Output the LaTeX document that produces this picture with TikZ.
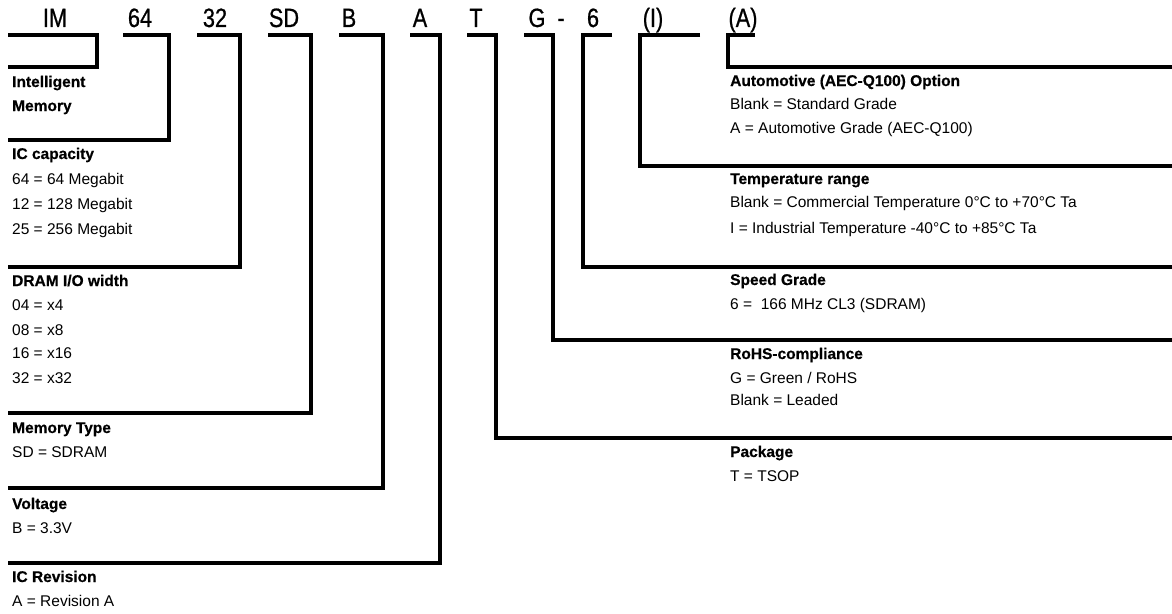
\documentclass[tikz,border=0pt]{standalone}
\usepackage{fontspec}
\setmainfont[BoldFeatures={FakeBold=0.6}]{Liberation Sans}
\newfontfamily\hdrfont[FakeStretch=0.82, FakeBold=0.7]{Liberation Sans}
\begin{document}
\begin{tikzpicture}[x=1pt, y=-1pt,
    bracket/.style={line width=4pt, line join=miter},
    code/.style={font=\hdrfont\fontsize{26.5}{30}\selectfont, anchor=base, inner sep=0pt},
    title/.style={font=\bfseries\fontsize{15.5}{18}\selectfont, anchor=base west, inner sep=0pt},
    entry/.style={font=\fontsize{15.5}{18}\selectfont, anchor=base west, inner sep=0pt}]
    \useasboundingbox (0,0) rectangle (1172,613);

    % Part number
    \node[code] (pIM) at (55,27) {IM};
    \node[code] (p64) at (140,27) {64};
    \node[code] (p32) at (215,27) {32};
    \node[code] (pSD) at (284,27) {SD};
    \node[code] (pB) at (349,27) {B};
    \node[code] (pA) at (420,27) {A};
    \node[code] (pT) at (476,27) {T};
    \node[code] (pG) at (537,27) {G};
    \node[code] (pdash) at (561,27) {-};
    \node[code] (p6) at (593,27) {6};
    \node[code] (pI) at (653,27) {(I)};
    \node[code] (pAuto) at (743,27) {(A)};

    % Brackets to the left
    \foreach \xs/\xv/\yb in {8/97/67, 123/169/140, 197/240/267, 268/311/413, 339/383/488, 410/440/563}
        \draw[bracket] (\xs,35) -| (\xv,\yb) -- (8,\yb);

    % Brackets to the right
    \foreach \xs/\xv/\yb in {467/496/438, 524/553/340, 612/583/267, 700/640/166, 755/728/67}
        \draw[bracket] (\xs,35) -| (\xv,\yb) -- (1172,\yb);

    % Left column
    \node[title] (tIM) at (12,87) {Intelligent};
    \node[title] (tIM2) at (12,111) {Memory};

    \node[title] (tCap) at (12,159) {IC capacity};
    \node[entry] (eCap1) at (12,184) {64 = 64 Megabit};
    \node[entry] (eCap2) at (12,209) {12 = 128 Megabit};
    \node[entry] (eCap3) at (12,234) {25 = 256 Megabit};

    \node[title] (tIO) at (12,286) {DRAM I/O width};
    \node[entry] (eIO1) at (12,310) {04 = x4};
    \node[entry] (eIO2) at (12,335) {08 = x8};
    \node[entry] (eIO3) at (12,358) {16 = x16};
    \node[entry] (eIO4) at (12,383) {32 = x32};

    \node[title] (tType) at (12,433) {Memory Type};
    \node[entry] (eType) at (12,457) {SD = SDRAM};

    \node[title] (tVolt) at (12,509) {Voltage};
    \node[entry] (eVolt) at (12,533) {B = 3.3V};

    \node[title] (tRev) at (12,582) {IC Revision};
    \node[entry] (eRev) at (12,606) {A = Revision A};

    % Right column
    \node[title] (tAuto) at (730,86) {Automotive (AEC-Q100) Option};
    \node[entry] (eAuto1) at (730,109) {Blank = Standard Grade};
    \node[entry] (eAuto2) at (730,133) {A = Automotive Grade (AEC-Q100)};

    \node[title] (tTemp) at (730,184) {Temperature range};
    \node[entry] (eTemp1) at (730,207) {Blank = Commercial Temperature 0°C to +70°C Ta};
    \node[entry] (eTemp2) at (730,233) {I = Industrial Temperature -40°C to +85°C Ta};

    \node[title] (tSpeed) at (730,285) {Speed Grade};
    \node[entry] (eSpeed) at (730,309) {6 = \ 166 MHz CL3 (SDRAM)};

    \node[title] (tRoHS) at (730,359) {RoHS-compliance};
    \node[entry] (eRoHS1) at (730,383) {G = Green / RoHS};
    \node[entry] (eRoHS2) at (730,405) {Blank = Leaded};

    \node[title] (tPkg) at (730,457) {Package};
    \node[entry] (ePkg) at (730,481) {T = TSOP};
\end{tikzpicture}
\end{document}
